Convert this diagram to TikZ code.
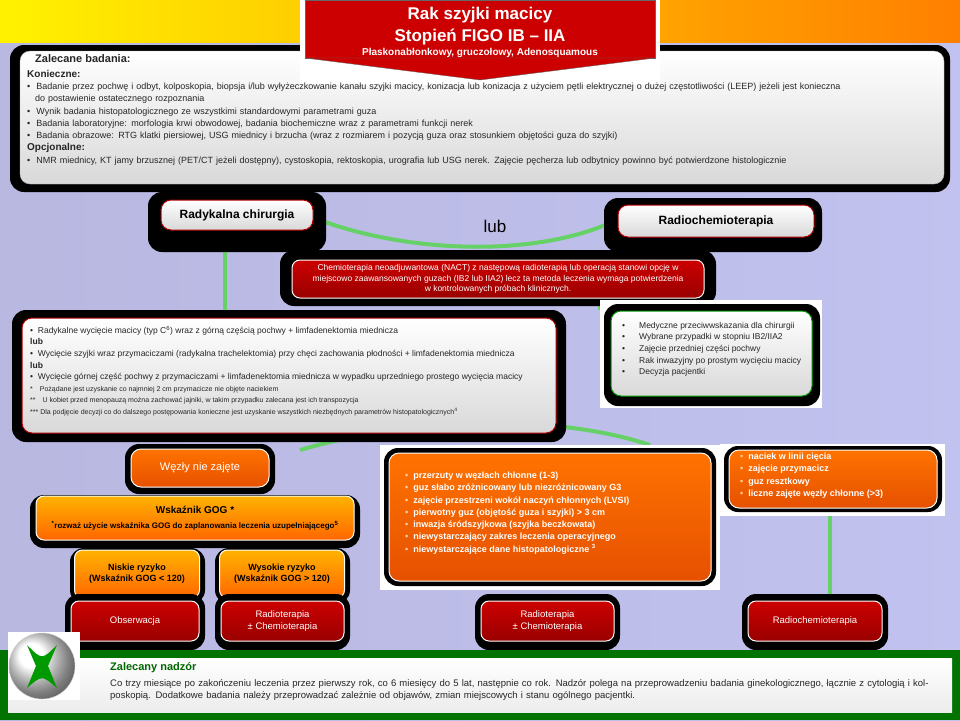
\documentclass[tikz,border=0pt]{standalone}
\usepackage{fontspec}
\setmainfont{Liberation Sans}
\usetikzlibrary{shapes.geometric}
\newcommand{\fs}[1]{\fontsize{#1}{\dimexpr #1pt*5/4\relax}\selectfont}
\begin{document}
\begin{tikzpicture}[x=1pt,y=-1pt,
  blk/.style={fill=black,rounded corners=14pt},
  light/.style={top color=white,bottom color=gray!30,draw=gray!60,rounded corners=10pt},
  redb/.style={top color=red!80!black,bottom color=red!60!black,draw=white,line width=1pt,rounded corners=8pt},
  orb/.style={top color=orange!90!red,bottom color=orange!70!red!90!black,draw=white,line width=1pt,rounded corners=10pt},
  yel/.style={top color=orange!60!yellow,bottom color=orange!80!red,draw=white,line width=1pt,rounded corners=8pt},
  grn/.style={draw=green!70!black!60,line width=4pt},
  txt/.style={font=\fs{9},text=black!85,align=left,anchor=north west,inner sep=0pt},
  wtxt/.style={font=\fs{9},text=white,align=center,inner sep=0pt}]
\useasboundingbox (0,0) rectangle (960,720);
\fill[left color=gray!60!blue!40,right color=gray!40!blue!30] (0,0) rectangle (960,720);
\fill[left color=yellow!90!orange,right color=orange] (0,0) rectangle (960,42);
% top box
\fill[blk] (10,45) rectangle (950,192);
\fill[light] (20,51) rectangle (944,184);
% title
\fill[white] (300,0) rectangle (660,85);
\node[fill=red!80!black,draw=black!60,line width=1pt,minimum width=350pt,minimum height=58pt,shape=rectangle] (title) at (480,29) {};
\fill[red!80!black,draw=black!60] (305,58) -- (655,58) -- (480,80) -- cycle;
\node[font=\fs{17}\bfseries,text=white,align=center] at (480,26) {Rak szyjki macicy\\Stopień FIGO IB – IIA};
\node[font=\fs{10}\bfseries,text=white] at (480,53) {Płaskonabłonkowy, gruczołowy, Adenosquamous};
\node[txt,font=\fs{11}\bfseries] (zb) at (35,54) {Zalecane badania:};
\node[txt,text width=900pt] (zbt) at (27,70) {\textbf{\fs{10}Konieczne:}\\[1pt]
• \ Badanie przez pochwę i odbyt, kolposkopia, biopsja i/lub wyłyżeczkowanie kanału szyjki macicy, konizacja lub konizacja z użyciem pętli elektrycznej o dużej częstotliwości (LEEP) jeżeli jest konieczna\\[1pt]
\hspace*{8pt}do postawienie ostatecznego rozpoznania\\[1pt]
• \ Wynik badania histopatologicznego ze wszystkimi standardowymi parametrami guza\\[1pt]
• \ Badania laboratoryjne: morfologia krwi obwodowej, badania biochemiczne wraz z parametrami funkcji nerek\\[1pt]
• \ Badania obrazowe: RTG klatki piersiowej, USG miednicy i brzucha (wraz z rozmiarem i pozycją guza oraz stosunkiem objętości guza do szyjki)\\[1pt]
\textbf{\fs{10}Opcjonalne:}\\[1pt]
• \ NMR miednicy, KT jamy brzusznej (PET/CT jeżeli dostępny), cystoskopia, rektoskopia, urografia lub USG nerek. Zajęcie pęcherza lub odbytnicy powinno być potwierdzone histologicznie};
% green links
\draw[grn] (225,250) -- (225,318);
\draw[grn] (600,250) -- (600,310);
\draw[grn] (325,222) .. controls (420,255) and (540,255) .. (612,222);
\draw[grn] (300,450) .. controls (420,415) and (560,415) .. (650,445);
\draw[grn] (830,510) -- (830,600);
% Radykalna chirurgia
\fill[blk] (148,192) rectangle (326,252);
\node[light,minimum width=152pt,minimum height=30pt,font=\fs{12}\bfseries,line width=1pt,draw=red!70!black] (rc) at (237,215) {Radykalna chirurgia};
\node[font=\fs{17}] (lub) at (495,226) {lub};
\fill[blk] (604,198) rectangle (822,252);
\node[light,minimum width=196pt,minimum height=32pt,font=\fs{12}\bfseries,line width=1pt,draw=red!70!black] (rch) at (716,221) {Radiochemioterapia};
% NACT
\fill[blk] (280,250) rectangle (716,306);
\node[redb,minimum width=412pt,minimum height=38pt,wtxt,font=\fs{8.5}] (nact) at (498,279) {Chemioterapia neoadjuwantowa (NACT) z następową radioterapią lub operacją stanowi opcję w\\miejscowo zaawansowanych guzach (IB2 lub IIA2) lecz ta metoda leczenia wymaga potwierdzenia\\w kontrolowanych próbach klinicznych.};
% left big box
\fill[blk] (12,310) rectangle (566,442);
\fill[light,draw=red!70!black,line width=1pt] (22,318) rectangle (556,433);
\node[txt,font=\fs{8.5}] (lb) at (30,326) {• \ Radykalne wycięcie macicy (typ C\textsuperscript{6}) wraz z górną częścią pochwy + limfadenektomia miednicza\\[1pt]
\textbf{lub}\\[1pt]
• \ Wycięcie szyjki wraz przymaciczami (radykalna trachelektomia) przy chęci zachowania płodności + limfadenektomia miednicza\\[1pt]
\textbf{lub}\\[1pt]
• \ Wycięcie górnej część pochwy z przymaciczami + limfadenektomia miednicza w wypadku uprzedniego prostego wycięcia macicy\\[1pt]
{\fs{7}*\quad Pożądane jest uzyskanie co najmniej 2 cm przymacicze nie objęte naciekiem}\\[1pt]
{\fs{7}**\quad U kobiet przed menopauzą można zachować jajniki, w takim przypadku zalecana jest ich transpozycja}\\[1pt]
{\fs{7}***\ Dla podjęcie decyzji co do dalszego postępowania konieczne jest uzyskanie wszystkich niezbędnych parametrów histopatologicznych\textsuperscript{4}}};
% right box
\fill[white] (600,300) rectangle (822,408);
\fill[blk] (604,304) rectangle (820,406);
\fill[light,draw=green!60!black,line width=1pt] (611,311) rectangle (812,396);
\node[txt,font=\fs{8.5}] (rb) at (622,322) {•\hspace{14pt}Medyczne przeciwwskazania dla chirurgii\\[1pt]
•\hspace{14pt}Wybrane przypadki w stopniu IB2/IIA2\\[1pt]
•\hspace{14pt}Zajęcie przedniej części pochwy\\[1pt]
•\hspace{14pt}Rak inwazyjny po prostym wycięciu macicy\\[1pt]
•\hspace{14pt}Decyzja pacjentki};
% Wezly
\fill[blk] (125,444) rectangle (275,494);
\node[orb,minimum width=138pt,minimum height=38pt,wtxt,font=\fs{11}] (wz) at (200,468) {Węzły nie zajęte};
\fill[blk] (30,495) rectangle (360,548);
\node[yel,minimum width=318pt,minimum height=44pt,font=\fs{10}\bfseries,align=center,inner sep=0pt] (gog) at (195,518) {Wskaźnik GOG *\\[3pt]{\fs{8}\textsuperscript{*}rozważ użycie wskaźnika GOG do zaplanowania leczenia uzupełniającego\textsuperscript{5}}};
\fill[blk] (70,548) rectangle (205,604);
\node[yel,minimum width=125pt,minimum height=48pt,font=\fs{9}\bfseries,align=center,inner sep=0pt] (nr) at (137,574) {Niskie ryzyko\\(Wskaźnik GOG < 120)};
\fill[blk] (215,548) rectangle (350,604);
\node[yel,minimum width=125pt,minimum height=48pt,font=\fs{9}\bfseries,align=center,inner sep=0pt] (wr) at (282,574) {Wysokie ryzyko\\(Wskaźnik GOG > 120)};
% middle orange
\fill[white] (380,445) rectangle (720,590);
\fill[blk] (384,448) rectangle (716,586);
\node[orb,minimum width=322pt,minimum height=128pt] (mo) at (550,517) {};
\node[txt,font=\fs{9}\bfseries,text=white] at (405,472) {\textcolor{orange!40}{•}\ \ przerzuty w węzłach chłonne (1-3)\\[1pt]
\textcolor{orange!40}{•}\ \ guz słabo zróżnicowany lub niezróżnicowany G3\\[1pt]
\textcolor{orange!40}{•}\ \ zajęcie przestrzeni wokół naczyń chłonnych (LVSI)\\[1pt]
\textcolor{orange!40}{•}\ \ pierwotny guz (objętość guza i szyjki) > 3 cm\\[1pt]
\textcolor{orange!40}{•}\ \ inwazja śródszyjkowa (szyjka beczkowata)\\[1pt]
\textcolor{orange!40}{•}\ \ niewystarczający zakres leczenia operacyjnego\\[1pt]
\textcolor{orange!40}{•}\ \ niewystarczające dane histopatologiczne \textsuperscript{3}};
% right orange
\fill[white] (720,444) rectangle (945,516);
\fill[blk] (724,446) rectangle (942,512);
\node[orb,minimum width=208pt,minimum height=58pt] (ro) at (833,479) {};
\node[txt,font=\fs{9}\bfseries,text=white] at (740,453) {\textcolor{orange!40}{•}\ \ naciek w linii cięcia\\[1pt]
\textcolor{orange!40}{•}\ \ zajęcie przymacicz\\[1pt]
\textcolor{orange!40}{•}\ \ guz resztkowy\\[1pt]
\textcolor{orange!40}{•}\ \ liczne zajęte węzły chłonne (>3)};
% red boxes
\foreach \n/\xa/\xb/\t in {ob/65/205/Obserwacja, r1/215/350/{Radioterapia\\± Chemioterapia}, r2/475/620/{Radioterapia\\± Chemioterapia}, r3/742/888/Radiochemioterapia}{
  \fill[blk] (\xa,594) rectangle (\xb,650);
  \node[redb,minimum width=\xb-\xa-12,minimum height=40pt,wtxt,font=\fs{9.5}] (\n) at ({(\xa+\xb)/2},621) {\t};
}
% bottom
\fill[green!45!black] (0,650) rectangle (960,720);
\fill[top color=white,bottom color=gray!15] (8,658) rectangle (952,712);
\fill[white] (8,632) rectangle (80,700);
\shade[ball color=white,draw=gray!40] (42,666) circle (33);
\fill[green!60!black] (27,645) .. controls (42,660) .. (57,645) -- (48,666) -- (57,688) .. controls (42,675) .. (27,688) -- (36,666) -- cycle;
\node[txt,font=\fs{11}\bfseries,text=green!40!black] (zn) at (110,662) {Zalecany nadzór};
\node[txt,font=\fs{9.5},text width=830pt,align=left] (znt) at (110,679) {Co trzy miesiące po zakończeniu leczenia przez pierwszy rok, co 6 miesięcy do 5 lat, następnie co rok. Nadzór polega na przeprowadzeniu badania ginekologicznego, łącznie z cytologią i kolposkopią. Dodatkowe badania należy przeprowadzać zależnie od objawów, zmian miejscowych i stanu ogólnego pacjentki.};
\end{tikzpicture}
\end{document}
